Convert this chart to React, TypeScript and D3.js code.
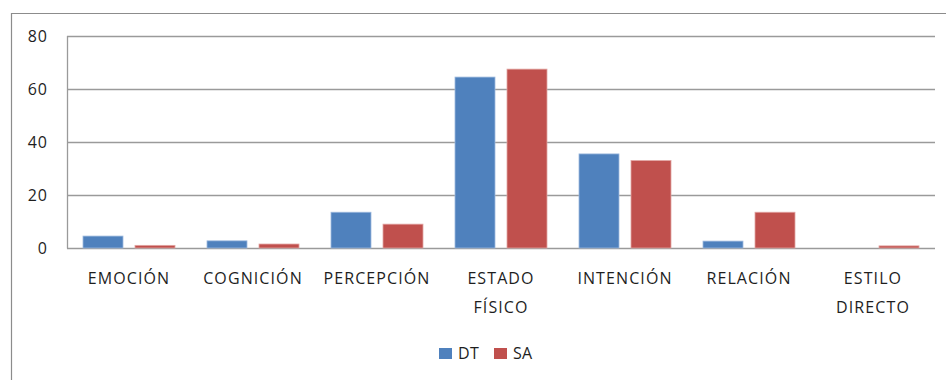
import React from "react";
import * as d3 from "d3";

const categories: string[][] = [
  ["EMOCIÓN"],
  ["COGNICIÓN"],
  ["PERCEPCIÓN"],
  ["ESTADO", "FÍSICO"],
  ["INTENCIÓN"],
  ["RELACIÓN"],
  ["ESTILO", "DIRECTO"],
];
const seriesNames = ["DT", "SA"];
const dtValues = [4.5, 2.7, 13.5, 64.5, 35.5, 2.6, 0];
const saValues = [1, 1.5, 9, 67.5, 33, 13.5, 0.8];
const yTicks = [0, 20, 40, 60, 80];
const colors = ["#4F81BD", "#C0504D"];
const strokeColors = ["#9DB9DE", "#E2A5A3"];

const W = 946;
const H = 380;
const plot = { left: 67, right: 935, top: 36, bottom: 248 };
const FONT = "'Open Sans', 'Noto Sans', sans-serif";
const TEXT = "#1e1e1e";

export default function App() {
  const x = d3
    .scaleBand<number>()
    .domain(d3.range(categories.length))
    .range([plot.left, plot.right])
    .paddingInner(0)
    .paddingOuter(0);
  const y = d3.scaleLinear().domain([0, 80]).range([plot.bottom, plot.top]);
  const band = x.bandwidth();
  const barW = band * (40 / 124);
  const gap = band * (12 / 124);
  const series = [dtValues, saValues];

  return (
    <div style={{ position: "fixed", left: 0, top: 0, width: W, height: H, background: "#fff" }}>
      <svg width={W} height={H} style={{ display: "block" }}>
        <rect x={0} y={0} width={W} height={H} fill="#fff" />
        {/* outer border */}
        <path d={`M11.5,${H} V13.5 H${W}`} fill="none" stroke="#8c8c8c" strokeWidth={1.2} />
        {/* gridlines */}
        {yTicks.map((t) => (
          <line
            key={t}
            x1={plot.left}
            x2={plot.right}
            y1={Math.round(y(t)) + 0.5}
            y2={Math.round(y(t)) + 0.5}
            stroke="#9a9a9a"
            strokeWidth={1.3}
          />
        ))}
        <line
          x1={plot.left + 0.5}
          x2={plot.left + 0.5}
          y1={plot.top}
          y2={plot.bottom + 0.5}
          stroke="#9a9a9a"
          strokeWidth={1.3}
        />
        {/* y tick labels */}
        {yTicks.map((t) => (
          <text
            key={t}
            x={48}
            y={y(t)}
            dy="0.36em"
            textAnchor="end"
            fontFamily={FONT}
            fontSize={16}
            fill={TEXT}
            letterSpacing={1}
          >
            {t}
          </text>
        ))}
        {/* bars */}
        {series.map((vals, si) =>
          vals.map((v, i) => {
            if (v <= 0) return null;
            const bx = (x(i) as number) + (band - 2 * barW - gap) / 2 + si * (barW + gap);
            const by = y(v);
            return (
              <rect
                key={`${si}-${i}`}
                x={bx}
                y={by}
                width={barW}
                height={plot.bottom - by}
                fill={colors[si]}
                stroke={strokeColors[si]}
                strokeWidth={0.8}
              />
            );
          })
        )}
        {/* x labels */}
        {categories.map((lines, i) => (
          <text
            key={i}
            x={(x(i) as number) + band / 2}
            textAnchor="middle"
            fontFamily={FONT}
            fontSize={16}
            fill={TEXT}
            letterSpacing={1.1}
          >
            {lines.map((l, li) => (
              <tspan key={li} x={(x(i) as number) + band / 2} y={284 + li * 29}>
                {l}
              </tspan>
            ))}
          </text>
        ))}
        {/* legend */}
        {seriesNames.map((n, si) => (
          <g key={n} transform={`translate(${439 + si * 55},348)`}>
            <rect x={0} y={0} width={13} height={11} fill={colors[si]} />
            <text x={19} y={5.5} dy="0.36em" fontFamily={FONT} fontSize={16} fill={TEXT} letterSpacing={0.3}>
              {n}
            </text>
          </g>
        ))}
      </svg>
    </div>
  );
}
